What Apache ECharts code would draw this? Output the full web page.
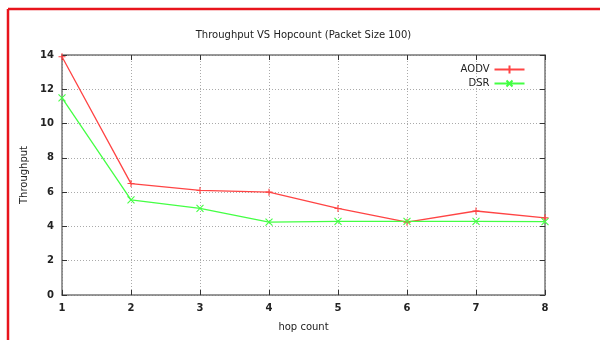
<!DOCTYPE html>
<html><head><meta charset="utf-8">
<script src="https://cdn.jsdelivr.net/npm/echarts@6/dist/echarts.min.js"></script>
<style>html,body{margin:0;padding:0;background:#fff}#c{width:607px;height:352px}</style>
</head><body><div id="c"></div>
<script>
var hopCounts = [1, 2, 3, 4, 5, 6, 7, 8];
var aodv = [13.9, 6.5, 6.1, 6.0, 5.05, 4.25, 4.9, 4.5];
var dsr = [11.5, 5.55, 5.05, 4.25, 4.3, 4.3, 4.3, 4.28];
var yTicks = [0, 2, 4, 6, 8, 10, 12, 14];

var plus = 'path://M5,0L5,10M0,5L10,5';
var cross = 'path://M0,0L10,10M10,0L0,10';
var font = 'DejaVu Sans';
var chart = echarts.init(document.getElementById('c'));
var tickStyle = {show: true, inside: true, length: 5, lineStyle: {color: '#333', width: 1}};
chart.setOption({
  animation: false,
  backgroundColor: '#fff',
  textStyle: {fontFamily: font},
  title: {text: 'Throughput VS Hopcount (Packet Size 100)', left: 'center', top: 25,
    textStyle: {fontSize: 10, fontWeight: 'normal', color: '#222', fontFamily: font}},
  legend: {orient: 'vertical', right: 75, top: 58, align: 'right', itemGap: 2, itemWidth: 30, itemHeight: 10,
    textStyle: {fontSize: 10, color: '#222', fontFamily: font},
    data: [{name: 'AODV', icon: 'path://M0,5L30,5M15,1L15,9'}, {name: 'DSR', icon: 'path://M0,5L30,5M12,2L18,8M18,2L12,8'}]},
  grid: {left: 62, right: 62, top: 55, bottom: 57},
  xAxis: [{type: 'value', min: 1, max: 8, interval: 1, name: 'hop count', nameLocation: 'middle', nameGap: 27,
    nameTextStyle: {fontSize: 10, color: '#222'},
    axisLine: {onZero: false, lineStyle: {color: '#777', width: 1.5}}, axisTick: tickStyle,
    axisLabel: {fontSize: 10, color: '#222', fontWeight: 'bold', margin: 8},
    splitLine: {show: true, lineStyle: {color: '#aaa', type: [1, 2], width: 1}}},
    {type: 'value', min: 1, max: 8, interval: 1, position: 'top',
    axisLine: {onZero: false, lineStyle: {color: '#777', width: 1.5}}, axisTick: tickStyle, axisLabel: {show: false}, splitLine: {show: false}}],
  yAxis: [{type: 'value', min: 0, max: 14, interval: 2, name: 'Throughput', nameLocation: 'middle', nameGap: 32,
    nameTextStyle: {fontSize: 10, color: '#222'},
    axisLine: {show: true, onZero: false, lineStyle: {color: '#777', width: 1.5}}, axisTick: tickStyle,
    axisLabel: {fontSize: 10, color: '#222', fontWeight: 'bold', margin: 8,
      formatter: function (v) { return yTicks.indexOf(v) >= 0 ? String(v) : ''; }},
    splitLine: {show: true, lineStyle: {color: '#aaa', type: [1, 2], width: 1}}},
    {type: 'value', min: 0, max: 14, interval: 2, position: 'right',
    axisLine: {show: true, onZero: false, lineStyle: {color: '#777', width: 1.5}}, axisTick: tickStyle, axisLabel: {show: false}, splitLine: {show: false}}],
  graphic: [
    {type: 'line', shape: {x1: 8, y1: 9, x2: 600, y2: 9}, style: {stroke: '#e8141c', lineWidth: 2.5}},
    {type: 'line', shape: {x1: 8, y1: 9, x2: 8, y2: 340}, style: {stroke: '#e8141c', lineWidth: 2.5}}
  ],
  series: [
    {name: 'AODV', type: 'line', data: hopCounts.map(function (x, i) { return [x, aodv[i]]; }),
      color: '#ff4444', symbol: plus, symbolSize: 7, showSymbol: true,
      lineStyle: {width: 1.3, color: '#ff4444'}, itemStyle: {color: 'none', borderColor: '#ff4444', borderWidth: 1.1}},
    {name: 'DSR', type: 'line', data: hopCounts.map(function (x, i) { return [x, dsr[i]]; }),
      color: '#44ff44', symbol: cross, symbolSize: 7, showSymbol: true,
      lineStyle: {width: 1.3, color: '#44ff44'}, itemStyle: {color: 'none', borderColor: '#44ff44', borderWidth: 1.1}}
  ]
});
</script></body></html>
